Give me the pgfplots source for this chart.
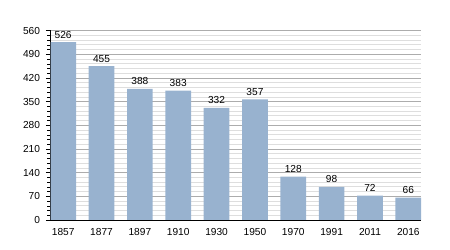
\documentclass[border=0pt]{standalone}
\usepackage{pgfplots}
\pgfplotsset{compat=1.18}
\usepackage{fontspec}
\setmainfont{Liberation Sans}
\definecolor{barblue}{RGB}{152,178,207}
\definecolor{majgrid}{RGB}{172,172,172}
\definecolor{mingrid}{RGB}{222,222,222}
\begin{document}
\begin{tikzpicture}
\path[use as bounding box] (-50.5bp,-30bp) rectangle (399.5bp,220bp);
\begin{axis}[
  scale only axis,
  width=370.5bp, height=189.3bp,
  xmin=-0.33, xmax=9.33,
  ymin=0, ymax=560,
  ytick={0,70,...,560},
  minor y tick num=4,
  xtick={0,...,9},
  xticklabels={1857,1877,1897,1910,1930,1950,1970,1991,2011,2016},
  axis x line*=bottom,
  axis y line*=left,
  ymajorgrids, yminorgrids,
  major grid style={majgrid, line width=0.8bp},
  minor grid style={mingrid, line width=0.8bp},
  tick align=outside,
  major tick length=4.5bp,
  minor tick length=3bp,
  tick style={black, line width=0.6bp},
  xtick style={draw=none},
  axis line style={black, line width=1bp},
  /pgf/number format/assume math mode=true,
  tick label style={font=\fontsize{10.2}{12}\selectfont},
  yticklabel style={xshift=-2.5bp},
  xticklabel style={yshift=-0.5bp},
  ybar, bar width=0.67,
  nodes near coords,
  every node near coord/.append style={font=\fontsize{10.2}{12}\selectfont, black, yshift=0.5bp},
  axis on top=false,
]
\addplot[fill=barblue, draw=none] coordinates {
 (0,526) (1,455) (2,388) (3,383) (4,332) (5,357) (6,128) (7,98) (8,72) (9,66)
};
\end{axis}
\end{tikzpicture}
\end{document}
